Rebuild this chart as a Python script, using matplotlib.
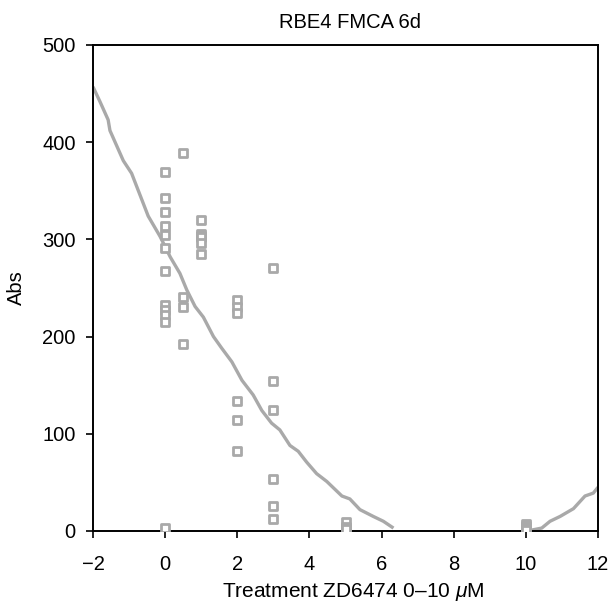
import matplotlib
matplotlib.use("Agg")
import matplotlib.pyplot as plt

plt.rcParams['font.family'] = ['Liberation Sans', 'DejaVu Sans']
plt.rcParams['mathtext.fontset'] = 'custom'
plt.rcParams['mathtext.it'] = 'Liberation Sans:italic'
plt.rcParams['mathtext.rm'] = 'Liberation Sans'

# Scatter data (dose, absorbance)
dose_x = ([0]*12 + [0.5]*4 + [1]*6 + [2]*6 + [3]*6 + [5]*3 + [10]*4)
abs_y = [369, 343, 328, 314, 305, 291, 268, 233, 227, 222, 215, 3,
         389, 241, 230, 192,
         320, 306, 304, 302, 296, 285,
         238, 230, 224, 134, 114, 82,
         271, 154, 125, 53, 26, 12,
         9, 4, 2,
         7, 5, 3, 1]

# Fitted curve, two visible segments
fit1_x = [-2.0, -1.81, -1.58, -1.53, -1.16, -0.93, -0.47, -0.14, 0.14, 0.41, 0.6,
          0.83, 1.06, 1.34, 1.57, 1.85, 2.13, 2.44, 2.68, 2.95, 3.18, 3.46,
          3.69, 3.92, 4.2, 4.48, 4.9, 5.12, 5.4, 5.77, 6.05, 6.33]
fit1_y = [457, 442, 423, 412, 381, 368, 324, 303, 282, 265, 248,
          231, 220, 200, 188, 174, 155, 140, 124, 111, 104, 88,
          82, 71, 59, 51, 36, 33, 22, 15, 10, 3]
fit2_x = [10.03, 10.44, 10.67, 10.95, 11.32, 11.64, 11.87, 12.0]
fit2_y = [0, 3, 10, 15, 23, 36, 39, 45]

x_ticks = [-2, 0, 2, 4, 6, 8, 10, 12]
x_ticklabels = ['\u22122', '0', '2', '4', '6', '8', '10', '12']
y_ticks = [0, 100, 200, 300, 400, 500]

gray = '#a9a9a9'
fs = 14.5

fig = plt.figure(figsize=(6.11, 6.03), dpi=100)
ax = fig.add_axes([93/611, 1-531/603, (598-93)/611, (531-45)/603])

ax.plot(fit1_x, fit1_y, color=gray, lw=2.4, solid_capstyle='butt', zorder=2)
ax.plot(fit2_x, fit2_y, color=gray, lw=2.4, solid_capstyle='butt', zorder=2)
ax.scatter(dose_x, abs_y, marker='s', s=26, facecolors='white',
           edgecolors=gray, linewidths=2.0, zorder=3)

ax.set_xlim(-2, 12)
ax.set_ylim(0, 500)
ax.set_xticks(x_ticks)
ax.set_xticklabels(x_ticklabels)
ax.set_yticks(y_ticks)
ax.tick_params(axis='x', direction='out', length=5, width=1.2, pad=12,
               labelsize=fs, top=False)
ax.tick_params(axis='y', direction='out', length=5, width=1.2, pad=7.5,
               labelsize=fs, right=False)
for s in ax.spines.values():
    s.set_linewidth(1.4)
    s.set_color('black')

fig.text(350/611, 1-28/603, 'RBE4 FMCA 6d', ha='center', va='baseline',
         fontsize=fs)
fig.text(353/611, 1-597/603, r'Treatment ZD6474 0–10 $\mu$M', ha='center',
         va='baseline', fontsize=15)
fig.text(16/611, 1-288/603, 'Abs', ha='center', va='center', rotation=90,
         fontsize=fs)

fig.savefig('out.png', dpi=100)
